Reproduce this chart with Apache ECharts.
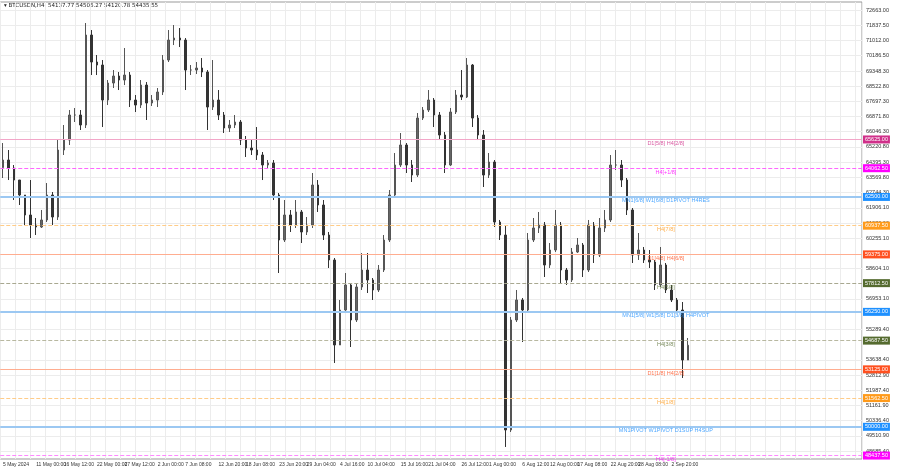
<!DOCTYPE html>
<html><head><meta charset="utf-8">
<script src="https://cdn.jsdelivr.net/npm/echarts@6/dist/echarts.min.js"></script>
<style>html,body{margin:0;padding:0;background:#fff}#c{width:900px;height:468px}</style>
</head><body><div id="c"></div>
<script>
const closes=[64508,64073,63420,62605,61517,60974,60865,61246,62605,61409,65052,65595,66954,66954,66411,71304,69836,69673,67770,68694,69075,68857,69129,67770,67498,68584,67607,67770,68205,69945,71032,71141,71032,69401,69401,69510,69292,67389,67770,66954,66247,66411,66574,65595,65160,65052,64780,64236,64345,62605,60158,61517,60974,61681,60594,60974,63149,62061,60430,59071,54449,56352,57712,55809,57603,58527,57983,57440,58527,60158,62605,64236,65323,64236,63692,66790,67226,67770,66954,65867,64236,67118,68042,67933,69673,66790,65867,63692,64399,61137,60430,49828,55809,56896,56352,60158,60811,60974,58799,59614,60974,58527,57983,59506,59886,58527,60974,59343,60811,61246,64236,64236,63420,61790,59343,59614,59071,58962,57712,58799,57440,56896,56352,53634,54435.55];
const highs=[65432,65052,64236,63420,62333,63420,61354,61790,63257,62768,65595,66411,67226,67335,67226,71957,71576,70217,69945,68857,69401,69292,70597,69292,68042,68857,68748,68042,68422,70217,71576,71848,71685,71141,69673,69836,70054,69401,69945,68314,67118,66683,66954,66683,65813,65595,66302,64943,64508,64508,62714,62333,61790,62333,61790,61409,63801,63420,62333,60594,59179,56896,58364,57820,57820,59451,59451,58092,58799,60430,62877,64888,65976,65432,64508,67063,67389,68314,67879,67118,66030,67335,68314,69401,70054,69727,66954,66139,64888,64508,61246,60974,55971,57440,57005,60539,61354,61681,61137,59995,61790,61137,58636,59723,60267,59995,61246,61137,61354,61790,64780,65052,64508,63529,61898,60539,59778,59614,59071,59778,58908,57712,57005,56787,54830];
const lows=[63529,63420,62333,62061,60974,60267,60430,60811,61137,60974,61246,64780,65323,66574,66139,66247,69129,69129,66302,67498,68422,68314,68584,67389,67118,67335,66683,67444,67389,68042,69836,70760,70651,68314,69129,69184,69020,66139,67226,66683,65976,66030,66247,65323,64671,64780,64508,63420,64073,62333,58364,60049,60594,60811,59995,60430,60811,61681,60158,58636,53471,54449,56243,54340,55700,57440,57276,56896,57331,58418,60049,62496,64127,63801,63312,63584,66683,67118,66302,65595,63801,64182,67009,67770,67879,66302,65595,63040,63529,60865,60158,48904,49719,55700,54612,56243,60049,60539,58146,58636,59506,57820,57712,57874,59451,58146,58418,58908,59234,60594,61137,63964,63040,61517,58908,59071,58908,58636,57440,57603,57276,56787,56243,52655,53906];
const xTickIdx=[0,6,11,17,22,28,33,39,44,50,55,61,66,72,77,83,88,94,99,104,110,115,121];
const xTickLabels=['5 May 2024','11 May 00:00','16 May 12:00','22 May 00:00','27 May 12:00','2 Jun 00:00','7 Jun 08:00','12 Jun 20:00','18 Jun 08:00','23 Jun 20:00','29 Jun 04:00','4 Jul 16:00','10 Jul 04:00','15 Jul 16:00','21 Jul 04:00','26 Jul 12:00','1 Aug 00:00','6 Aug 12:00','12 Aug 00:00','17 Aug 08:00','22 Aug 20:00','28 Aug 08:00','2 Sep 20:00'];
const yTicks=[72663.00,71837.50,71012.00,70186.50,69348.30,68522.80,67697.30,66871.80,66046.30,65220.80,64395.30,63569.80,62744.30,61906.10,61080.60,60255.10,58604.10,56953.10,55289.40,53638.40,52812.90,51987.40,51161.90,50336.40,49510.90,48685.40];
const levelValues=[65625,64062.5,62500,60937.5,59375,57812.5,56250,54687.5,53125,51562.5,50000,48437.5];
const levelNames=['D1[5/8] H4[2/8]','H4[+1/8]','MN1[6/8] W1[6/8] D1PIVOT H4RES','H4[7/8]','D1[4/8] H4[6/8]','H4[5/8]','MN1[5/8] W1[5/8] D1[3/8] H4PIVOT','H4[3/8]','D1[1/8] H4[2/8]','H4[1/8]','MN1PIVOT W1PIVOT D1SUP H4SUP','H4[-1/8]'];
const currentPrice=54435.55;

const lvStyle=[
 {line:'#f2a6c8',box:'#d0308a',txt:'#d0308a',type:'solid',w:1},
 {line:'#ff66ff',box:'#ff00ff',txt:'#ff00ff',type:'dashed',w:1},
 {line:'#9cc8f2',box:'#1e90ff',txt:'#1e90ff',type:'solid',w:2},
 {line:'#ffcc88',box:'#ff9a1a',txt:'#ff9a1a',type:'dashed',w:1},
 {line:'#ffad90',box:'#ff5020',txt:'#ff5020',type:'solid',w:1},
 {line:'#a8a890',box:'#556b2f',txt:'#556b2f',type:'dashed',w:1},
 {line:'#9cc8f2',box:'#1e90ff',txt:'#1e90ff',type:'solid',w:2},
 {line:'#b8b8a0',box:'#556b2f',txt:'#556b2f',type:'dashed',w:1},
 {line:'#ffad90',box:'#ff5020',txt:'#ff5020',type:'solid',w:1},
 {line:'#ffcc88',box:'#ff9a1a',txt:'#ff9a1a',type:'dashed',w:1},
 {line:'#9cc8f2',box:'#1e90ff',txt:'#1e90ff',type:'solid',w:2},
 {line:'#ff88ff',box:'#ff00ff',txt:'#ff00ff',type:'dashed',w:1}];

const N=156;
const cats=[];for(let i=0;i<N;i++)cats.push(String(i));
const ohlc=closes.map((c,i)=>[i===0?64100:closes[i-1],c,lows[i],highs[i]]);

const markData=levelValues.map((v,i)=>({yAxis:v,lineStyle:{color:lvStyle[i].line,type:lvStyle[i].type,width:lvStyle[i].w},
  label:{show:true,position:'end',formatter:v.toFixed(2),backgroundColor:lvStyle[i].box,color:'#fff',fontSize:5.5,padding:[1,2],distance:1}}));
markData.push({yAxis:currentPrice,lineStyle:{opacity:0},label:{show:true,position:'end',formatter:currentPrice.toFixed(2),backgroundColor:'#000',color:'#fff',fontSize:5.5,padding:[1,2],distance:1}});

const ch=echarts.init(document.getElementById('c'));
ch.setOption({
 animation:false,
 grid:{left:0,right:38,top:2,bottom:9,show:true,borderColor:'#999',borderWidth:1},
 xAxis:[{type:'category',data:cats,boundaryGap:true,axisLine:{show:false},axisTick:{show:false},splitLine:{show:false},
   axisLabel:{show:true,fontSize:5,color:'#333',align:'left',margin:3,hideOverlap:false,customValues:xTickIdx,formatter:(v,i)=>{const k=xTickIdx.indexOf(Number(v));return k>=0?xTickLabels[k]:'';}}},
  {type:'value',min:0,max:862,interval:15,show:true,axisLine:{show:false},axisTick:{show:false},axisLabel:{show:false},splitLine:{show:true,lineStyle:{color:'#ececec'}}}],
 yAxis:{type:'value',position:'right',min:48250,max:73100,
   axisLine:{show:false},axisTick:{show:false,customValues:yTicks},
   axisLabel:{fontSize:5.5,color:'#333',margin:4,customValues:yTicks,formatter:v=>Number(v).toFixed(2)},
   splitLine:{show:true,lineStyle:{color:'#ececec'}}},
 graphic:[{type:'text',left:4,top:3,style:{text:'▾ BTCUSDN,H4  54137.77 54506.27 54120.78 54435.55',fontSize:5.5,fill:'#222',fontFamily:'DejaVu Sans'}}],
 series:[
  {type:'candlestick',data:ohlc,barWidth:2,itemStyle:{color:'#666',color0:'#333',borderColor:'#555',borderColor0:'#333',borderWidth:1},
   markLine:{symbol:'none',silent:true,data:markData}},
  {type:'scatter',data:levelValues.map((v,i)=>({value:[120,v],label:{color:lvStyle[i].txt}})),symbolSize:0,
   label:{show:true,position:'inside',fontSize:5.5,offset:[0,4],formatter:p=>levelNames[p.dataIndex]}}
 ]
});
</script></body></html>
